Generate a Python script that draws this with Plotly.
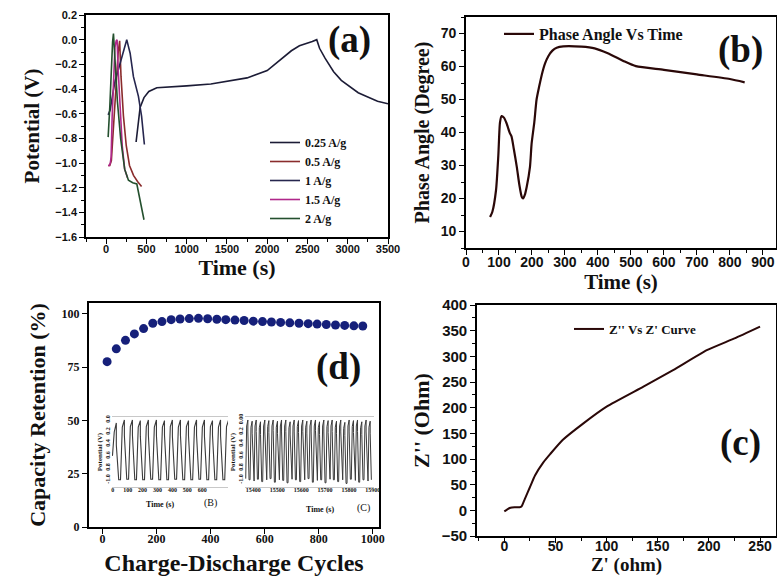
import plotly.graph_objects as go

W, H = 777, 577

# ---------------- (a) galvanostatic charge-discharge ----------------
a_names = ["0.25 A/g", "0.5 A/g", "1 A/g", "1.5 A/g", "2 A/g"]
a_colors = ["#1c1c36", "#8a2c2c", "#26264e", "#b0288a", "#24502e"]
t_025 = [372, 395, 422, 470, 530, 629, 800, 1000, 1300, 1500, 1750, 2000, 2150, 2300, 2400, 2500, 2560, 2615,
         2650, 2718, 2825, 2920, 3028, 3130, 3235, 3370, 3500]
v_025 = [-0.83, -0.68, -0.55, -0.47, -0.42, -0.39, -0.385, -0.375, -0.36, -0.34, -0.31, -0.25, -0.17, -0.09,
         -0.05, -0.03, -0.015, 0.0, -0.07, -0.15, -0.26, -0.33, -0.38, -0.43, -0.46, -0.50, -0.52]
t_05 = [25, 45, 65, 90, 120, 150, 168, 185, 215, 250, 290, 340, 390, 440]
v_05 = [-1.02, -1.02, -0.98, -0.70, -0.40, -0.10, -0.01, -0.30, -0.62, -0.86, -1.02, -1.10, -1.15, -1.19]
t_1 = [25, 50, 80, 112, 140, 174, 215, 256, 275, 298, 339, 401, 440, 475]
v_1 = [-0.61, -0.57, -0.45, -0.33, -0.27, -0.19, -0.09, 0.0, -0.05, -0.11, -0.30, -0.46, -0.62, -0.85]
t_15 = [25, 40, 52, 62, 75, 92, 110, 125, 136, 150, 175, 200, 230, 265]
v_15 = [-1.02, -1.02, -1.0, -0.95, -0.62, -0.25, -0.06, -0.01, 0.0, -0.25, -0.60, -0.86, -1.05, -1.12]
t_2 = [25, 35, 45, 55, 65, 80, 91, 110, 140, 180, 230, 277, 330, 381, 425, 470]
v_2 = [-0.79, -0.70, -0.55, -0.40, -0.20, -0.02, 0.05, -0.20, -0.50, -0.80, -1.05, -1.14, -1.16, -1.17, -1.30, -1.46]
a_t = [t_025, t_05, t_1, t_15, t_2]
a_v = [v_025, v_05, v_1, v_15, v_2]

# ---------------- (b) phase angle vs time ----------------
b_t = [73, 80, 91, 98, 103, 108, 115, 123, 133, 138, 145, 154, 162, 169, 173, 178, 184, 194, 199, 207, 214,
       222, 230, 240, 250, 262, 275, 295, 350, 390, 430, 477, 515, 600, 700, 800, 845]
b_v = [14.4, 16.0, 22.5, 33.0, 43.0, 45.0, 44.5, 42.8, 39.8, 38.8, 35.0, 29.6, 24.0, 20.5, 20.0, 21.0, 23.5,
       29.6, 36.7, 43.0, 50.0, 54.0, 57.6, 61.0, 63.2, 64.8, 65.7, 66.1, 66.0, 65.5, 64.0, 61.7, 60.1, 59.0,
       57.6, 56.2, 55.2]

# ---------------- (c) Nyquist ----------------
c_zr = [0, 3, 6, 10, 15, 17, 20, 25, 30, 38, 45, 57, 77, 100, 136, 165, 198, 225, 250]
c_zi = [-2, 2, 5, 6, 6, 8, 22, 45, 68, 93, 110, 137, 169, 202, 241, 273, 312, 335, 358]

# ---------------- (d) capacity retention ----------------
d_cycles = [17, 51, 85, 118, 152, 186, 220, 254, 287, 321, 355, 389, 423, 456, 490, 524, 558, 592, 625,
            659, 693, 727, 761, 794, 828, 862, 896, 930, 963]
d_ret = [77.5, 83.5, 87.5, 90.5, 93.0, 95.5, 96.3, 97.2, 97.5, 97.7, 97.8, 97.6, 97.4, 97.2, 97.0, 96.8,
         96.5, 96.3, 96.1, 95.9, 95.7, 95.5, 95.3, 95.1, 94.9, 94.7, 94.5, 94.3, 94.2]

# inset (B): first cycles  (start -> knee -> top -> IR drop -> end of discharge)
B_start = [-2, 52, 106, 159, 213, 267, 321, 374, 428, 482, 536, 589, 643, 697, 751, 805]
B_knee = [10, 64, 118, 171, 225, 279, 333, 386, 440, 494, 548, 601, 655, 709, 763]
B_top = [24, 78, 132, 185, 239, 293, 347, 400, 454, 508, 562, 615, 669, 723, 777]
B_end = [40, 94, 148, 201, 255, 309, 363, 416, 470, 524, 578, 631, 685, 739, 793]
B_knee_v = [-0.2, -0.12, -0.11, -0.12, -0.11, -0.12, -0.12, -0.11, -0.12, -0.11, -0.12, -0.12, -0.11, -0.12, -0.11]
B_top_v = [-0.05, 0.0, 0.0, -0.01, 0.0, 0.0, -0.01, 0.0, 0.0, -0.01, 0.0, 0.0, -0.01, 0.0, 0.0]
B_drop_v = [-0.42, -0.26, -0.25, -0.27, -0.25, -0.26, -0.25, -0.27, -0.25, -0.26, -0.25, -0.27, -0.25, -0.26, -0.25]
B_low_v = [-0.6, -1.0, -0.99, -1.0, -1.0, -0.99, -1.0, -1.0, -0.99, -1.0, -1.0, -0.99, -1.0, -1.0, -1.0, -1.0]
# inset (C): last cycles
C_start = [15368, 15386, 15403, 15421, 15439, 15456, 15474, 15492, 15509, 15527, 15545, 15562, 15580, 15598,
           15615, 15633, 15651, 15668, 15686, 15704, 15721, 15739, 15757, 15774, 15792, 15810, 15827, 15845,
           15863, 15880, 15898]
C_knee = [15372, 15390, 15407, 15425, 15443, 15460, 15478, 15496, 15513, 15531, 15549, 15566, 15584, 15602,
          15619, 15637, 15655, 15672, 15690, 15708, 15725, 15743, 15761, 15778, 15796, 15814, 15831, 15849,
          15867, 15884]
C_top = [15377, 15395, 15412, 15430, 15448, 15465, 15483, 15501, 15518, 15536, 15554, 15571, 15589, 15607,
         15624, 15642, 15660, 15677, 15695, 15713, 15730, 15748, 15766, 15783, 15801, 15819, 15836, 15854,
         15872, 15889]
C_end = [15382, 15400, 15417, 15435, 15453, 15470, 15488, 15506, 15523, 15541, 15559, 15576, 15594, 15612,
         15629, 15647, 15665, 15682, 15700, 15718, 15735, 15753, 15771, 15788, 15806, 15824, 15841, 15859,
         15877, 15894]
C_knee_v = [-0.1, -0.12, -0.1, -0.13, -0.1, -0.11, -0.1, -0.12, -0.1, -0.1, -0.13, -0.1, -0.11, -0.1, -0.12,
            -0.1, -0.1, -0.13, -0.1, -0.11, -0.1, -0.12, -0.1, -0.14, -0.1, -0.11, -0.1, -0.13, -0.1, -0.12]
C_top_v = [0.0, -0.02, 0.0, -0.03, 0.0, -0.01, 0.0, -0.02, 0.0, 0.0, -0.03, 0.0, -0.01, 0.0, -0.02, 0.0, 0.0,
           -0.03, 0.0, -0.01, 0.0, -0.02, 0.0, -0.04, 0.0, -0.01, 0.0, -0.03, 0.0, -0.02]
C_drop_v = [-0.2, -0.22, -0.19, -0.24, -0.2, -0.21, -0.18, -0.23, -0.2, -0.19, -0.25, -0.2, -0.21, -0.19, -0.22,
            -0.2, -0.18, -0.24, -0.2, -0.21, -0.19, -0.23, -0.2, -0.26, -0.2, -0.21, -0.19, -0.24, -0.2, -0.22]
C_low_v = [-0.98, -1.0, -1.02, -0.99, -1.03, -1.0, -0.98, -1.04, -1.0, -1.01, -1.05, -0.99, -1.0, -1.03, -1.0,
           -0.98, -1.04, -1.01, -1.0, -1.05, -0.99, -1.0, -1.03, -1.0, -1.06, -0.99, -1.01, -1.04, -1.0, -1.02, -1.0]


def cycles(start, knee, top, end, knee_v, top_v, drop_v, low_v):
    xs, ys = [], []
    for i in range(len(top)):
        xs += [start[i], knee[i], top[i], top[i], end[i]]
        ys += [low_v[i], knee_v[i], top_v[i], drop_v[i], low_v[i + 1]]
    return xs, ys


SERIF = "Liberation Serif"
SANS = "Liberation Sans"
INK = "#111111"

fig = go.Figure()

for name, col, tt, vv in zip(a_names, a_colors, a_t, a_v):
    fig.add_trace(go.Scatter(x=tt, y=vv, mode="lines", name=name, line=dict(color=col, width=1.6),
                             xaxis="x", yaxis="y", legend="legend"))

fig.add_trace(go.Scatter(x=b_t, y=b_v, mode="lines", name="Phase Angle Vs Time",
                         line=dict(color="#2a0808", width=2.2, shape="spline", smoothing=0.6),
                         xaxis="x2", yaxis="y2", legend="legend2"))

fig.add_trace(go.Scatter(x=d_cycles, y=d_ret, mode="markers", name="retention", showlegend=False,
                         marker=dict(color="#16207a", size=9), xaxis="x3", yaxis="y3"))

fig.add_trace(go.Scatter(x=c_zr, y=c_zi, mode="lines", name="Z'' Vs Z' Curve",
                         line=dict(color="#2a0808", width=2.0, shape="spline", smoothing=0.5),
                         xaxis="x4", yaxis="y4", legend="legend3"))

bx, by = cycles(B_start, B_knee, B_top, B_end, B_knee_v, B_top_v, B_drop_v, B_low_v)
fig.add_trace(go.Scatter(x=bx, y=by, mode="lines", showlegend=False, line=dict(color="#3a3a3a", width=1.1),
                         xaxis="x5", yaxis="y5"))
cx, cy = cycles(C_start, C_knee, C_top, C_end, C_knee_v, C_top_v, C_drop_v, C_low_v)
fig.add_trace(go.Scatter(x=cx, y=cy, mode="lines", showlegend=False, line=dict(color="#3a3a3a", width=1.0),
                         xaxis="x6", yaxis="y6"))


def dx(p0, p1):
    return [p0 / W, p1 / W]


def dy(top, bottom):
    return [1 - bottom / H, 1 - top / H]


def ax(domain, rng, title, tfont, tsize, dtick, tick0=None, standoff=5, tickformat=None, minor=None,
       lw=1.6, anchor=None, tsz=20, lstand=0, ticklen=5):
    d = dict(domain=domain, range=rng, showgrid=False, zeroline=False, showline=True, linecolor="#000",
             linewidth=lw, mirror=True, ticks="outside", ticklen=ticklen, tickwidth=1.3, tickcolor="#000",
             tickfont=dict(family=tfont, size=tsize, color=INK, weight="bold"),
             title=dict(text=title, font=dict(family=SERIF, size=tsz, color=INK, weight="bold"), standoff=standoff),
             automargin=False, anchor=anchor, dtick=dtick, ticklabelstandoff=lstand)
    if tick0 is not None:
        d["tick0"] = tick0
    if tickformat:
        d["tickformat"] = tickformat
    if minor:
        d["minor"] = dict(dtick=minor, ticks="outside", ticklen=3, tickcolor="#000", tickwidth=1)
    return d


layout = dict(width=W, height=H, margin=dict(l=0, r=0, t=0, b=0), paper_bgcolor="white", plot_bgcolor="white",
              showlegend=True)

# (a)
layout["xaxis"] = ax(dx(86, 388), [-250, 3500], "Time (s)", SANS, 11, 500, 0, standoff=4, minor=250,
                     anchor="y", tsz=22, lstand=-4)
layout["yaxis"] = ax(dy(15, 237), [-1.6, 0.2], "Potential (V)", SANS, 11, 0.2, -1.6, standoff=10,
                     tickformat=".1f", minor=0.1, anchor="x", tsz=21)
# (b)
layout["xaxis2"] = ax(dx(466, 776), [0, 940], "Time (s)", SANS, 14, 100, 0, standoff=0, minor=50,
                      anchor="y2", tsz=21, lstand=-5)
layout["yaxis2"] = ax(dy(17, 248), [5, 75], "Phase Angle (Degree)", SANS, 14, 10, 10, standoff=6, minor=5,
                      anchor="x2")
# (d)
layout["xaxis3"] = ax(dx(89, 379), [-50, 1023], "Charge-Discharge Cycles", SERIF, 12, 200, 0, standoff=10,
                      lw=2.2, anchor="y3", tsz=24, lstand=-6)
layout["yaxis3"] = ax(dy(303, 527), [0, 105], "Capacity Retention (%)", SERIF, 12, 25, 0, standoff=10,
                      lw=2.2, anchor="x3", tsz=22)
# (c)
layout["xaxis4"] = ax(dx(477, 776), [-26.7, 265.6], "Z' (ohm)", SANS, 14, 50, 0, standoff=0, minor=25,
                      anchor="y4", tsz=19, lstand=-9)
layout["yaxis4"] = ax(dy(305, 536), [-50, 400], "Z'' (Ohm)", SANS, 15, 50, -50, standoff=6, minor=25,
                      anchor="x4", tsz=22)

# insets
inset_y_vals = [-1.0, -0.8, -0.6, -0.4, -0.2, 0.0]
for xi, yi, x0, x1, rng, xt, yt in [
    ("xaxis5", "yaxis5", 112, 228, [-5, 773], [0, 100, 200, 300, 400, 500, 600],
     ["-1.0", "0.8", "0.6", "0.4", "0.2", "0.0"]),
    ("xaxis6", "yaxis6", 245, 374, [15365, 15905], [15400, 15500, 15600, 15700, 15800, 15900],
     ["-1.0", "0.8", "0.6", "0.4", "0.2", "0.00"]),
]:
    n = xi[-1]
    layout[xi] = dict(domain=dx(x0, x1), range=rng, anchor="y" + n, showgrid=False, zeroline=False,
                      showline=True, linecolor="#c8c8c8", linewidth=1.2, mirror=True, ticks="",
                      tickmode="array", tickvals=xt, ticktext=[str(v) for v in xt], ticklabelstandoff=-3,
                      tickfont=dict(family=SERIF, size=6, color=INK, weight="bold"),
                      automargin=False)
    layout[yi] = dict(domain=dy(417, 487), range=[-1.12, 0.05], anchor="x" + n, showgrid=False,
                      zeroline=False, showline=False, ticks="", tickmode="array", tickvals=inset_y_vals,
                      ticktext=yt, tickangle=-90,
                      tickfont=dict(family=SERIF, size=6, color=INK, weight="bold"),
                      title=dict(text="Potential (V)", font=dict(family=SERIF, size=7, color=INK, weight="bold"),
                                 standoff=1), automargin=False)

layout["legend"] = dict(x=265 / W, y=1 - 128 / H, xanchor="left", yanchor="top", bgcolor="rgba(0,0,0,0)",
                        font=dict(family=SERIF, size=12, color=INK, weight="bold"), itemwidth=30, tracegroupgap=0)
layout["legend2"] = dict(x=499 / W, y=1 - 17 / H, xanchor="left", yanchor="top", bgcolor="rgba(0,0,0,0)",
                         font=dict(family=SERIF, size=16, color=INK, weight="bold"), itemwidth=30)
layout["legend3"] = dict(x=569 / W, y=1 - 314 / H, xanchor="left", yanchor="top", bgcolor="rgba(0,0,0,0)",
                         font=dict(family=SERIF, size=13, color=INK, weight="bold"), itemwidth=30)

label_font = dict(family=SERIF, size=37, color=INK, weight="bold")
ann = []
for txt, px, py in [("(a)", 349, 40), ("(b)", 740, 50), ("(c)", 740, 443), ("(d)", 338, 367)]:
    ann.append(dict(text=txt, x=px / W, y=1 - py / H, xref="paper", yref="paper", showarrow=False,
                    xanchor="center", yanchor="middle", font=label_font))
for txt, px, py, sz, wt in [("Time (s)", 160, 504, 8, "bold"), ("Time (s)", 320, 509, 8, "bold"),
                            ("(B)", 210, 503, 10, "normal"), ("(C)", 363, 508, 10, "normal")]:
    ann.append(dict(text=txt, x=px / W, y=1 - py / H, xref="paper", yref="paper", showarrow=False,
                    xanchor="center", yanchor="middle", font=dict(family=SERIF, size=sz, color=INK, weight=wt)))
layout["annotations"] = ann

fig.update_layout(**layout)
fig.write_html("out.html")
